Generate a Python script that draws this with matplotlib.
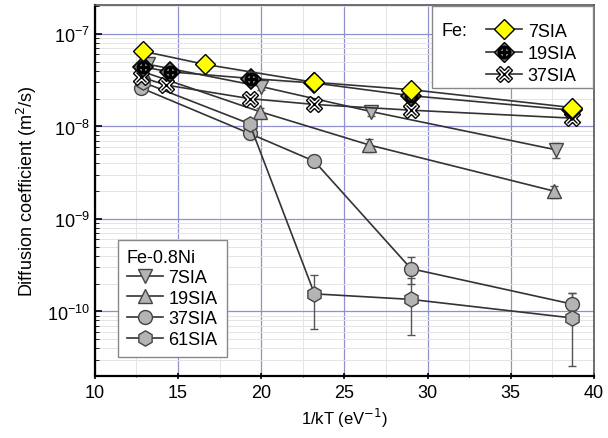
import numpy as np
import matplotlib
matplotlib.use("Agg")
import matplotlib.pyplot as plt
from matplotlib.lines import Line2D
from matplotlib.patches import Rectangle
from matplotlib.ticker import MultipleLocator, LogLocator, NullFormatter

plt.rcParams['font.family'] = ['Liberation Sans', 'DejaVu Sans']

# Fe data
x_fe7 = [12.9, 16.6, 23.2, 29.0, 38.7]
d_fe7 = [6.5e-8, 4.7e-8, 3.0e-8, 2.5e-8, 1.6e-8]
x_fe19 = [12.9, 14.5, 19.4, 23.2, 29.0, 38.7]
d_fe19 = [4.4e-8, 3.9e-8, 3.3e-8, 2.95e-8, 2.15e-8, 1.5e-8]
x_fe37 = [12.8, 14.3, 19.3, 23.2, 29.0, 38.7]
d_fe37 = [3.4e-8, 2.8e-8, 2.0e-8, 1.73e-8, 1.5e-8, 1.23e-8]

# Fe-0.8Ni data (value, lower, upper)
x_ni7 = [13.2, 20.0, 26.6, 37.7]
d_ni7 = [4.7e-8, 2.7e-8, 1.45e-8, 5.6e-9]
lo_ni7 = [4.5e-8, 2.5e-8, 1.3e-8, 4.6e-9]
hi_ni7 = [4.9e-8, 2.9e-8, 1.6e-8, 6.6e-9]
x_ni19 = [12.9, 19.9, 26.5, 37.6]
d_ni19 = [3.9e-8, 1.45e-8, 6.3e-9, 2.0e-9]
lo_ni19 = [3.7e-8, 1.3e-8, 5.3e-9, 1.7e-9]
hi_ni19 = [4.1e-8, 1.6e-8, 7.3e-9, 2.3e-9]
x_ni37 = [12.8, 19.3, 23.2, 29.0, 38.7]
d_ni37 = [2.6e-8, 8.4e-9, 4.2e-9, 2.9e-10, 1.2e-10]
lo_ni37 = [2.4e-8, 7.4e-9, 3.7e-9, 2.0e-10, 8.5e-11]
hi_ni37 = [2.8e-8, 9.4e-9, 4.7e-9, 3.9e-10, 1.6e-10]
x_ni61 = [12.9, 19.3, 23.2, 29.0, 38.7]
d_ni61 = [3.0e-8, 1.07e-8, 1.55e-10, 1.35e-10, 8.5e-11]
lo_ni61 = [2.8e-8, 9.7e-9, 6.5e-11, 5.5e-11, 2.6e-11]
hi_ni61 = [3.2e-8, 1.17e-8, 2.45e-10, 2.3e-10, 1.6e-10]

fig = plt.figure(figsize=(6.08, 4.39), dpi=100)
ax = fig.add_axes([0.156, 0.141, 0.821, 0.845])

gray = '#b4b4b4'
edge = '#444444'
line_c = '#333333'

def ni_series(x, d, lo, hi, marker, ms):
    d = np.array(d)
    yerr = [d - np.array(lo), np.array(hi) - d]
    ax.errorbar(x, d, yerr=yerr, color=line_c, lw=1.2, marker=marker, ms=ms,
                mfc=gray, mec=edge, mew=1.0, ecolor='#555555', elinewidth=1.0,
                capsize=3, zorder=3)

ni_series(x_ni7, d_ni7, lo_ni7, hi_ni7, 'v', 10)
ni_series(x_ni19, d_ni19, lo_ni19, hi_ni19, '^', 10)
ni_series(x_ni37, d_ni37, lo_ni37, hi_ni37, 'o', 10)
ni_series(x_ni61, d_ni61, lo_ni61, hi_ni61, 'h', 11)

# Fe series
ax.plot(x_fe37, d_fe37, color=line_c, lw=1.2, marker='X', ms=12, mfc='white',
        mec='black', mew=1.0, zorder=4)
ax.plot(x_fe37, d_fe37, ls='none', marker='x', ms=7, mec='black', mew=1.0, zorder=4)
ax.plot(x_fe19, d_fe19, color=line_c, lw=1.2, marker='D', ms=10, mfc='#777777',
        mec='black', mew=1.2, zorder=5)
ax.plot(x_fe19, d_fe19, ls='none', marker='$\\oplus$', ms=9, mec='black',
        mfc='black', zorder=5)
ax.plot(x_fe7, d_fe7, color=line_c, lw=1.2, marker='D', ms=10, mfc='#ffff00',
        mec='black', mew=1.0, zorder=6)

ax.set_yscale('log')
ax.set_xlim(10, 40)
ax.set_ylim(2.0e-11, 2.05e-7)

ax.xaxis.set_major_locator(MultipleLocator(5))
ax.xaxis.set_minor_locator(MultipleLocator(2.5))
ax.yaxis.set_major_locator(LogLocator(base=10, numticks=10))
ax.yaxis.set_minor_locator(LogLocator(base=10, subs=np.arange(2, 10), numticks=10))
ax.yaxis.set_minor_formatter(NullFormatter())

ax.grid(which='major', color='#9090d0', lw=0.9)
ax.grid(which='minor', color='#e4e4e4', lw=0.7)
ax.set_axisbelow(True)

ax.tick_params(axis='both', which='major', labelsize=13, direction='in', length=5, width=1.2)
ax.tick_params(axis='x', which='both', direction='inout')
ax.tick_params(axis='y', which='minor', direction='in', length=3)

for s in ['left', 'bottom']:
    ax.spines[s].set_linewidth(1.6)
for s in ['top', 'right']:
    ax.spines[s].set_color('#555555')
    ax.spines[s].set_linewidth(1.2)

ax.set_xlabel('1/kT (eV$^{-1}$)', fontsize=12, labelpad=3)
ax.set_ylabel('Diffusion coefficient (m$^2$/s)', fontsize=13, labelpad=6)

# Fe-0.8Ni legend
kw = dict(color=line_c, lw=1.2, mfc=gray, mec=edge)
ni_handles = [Line2D([], [], marker='v', ms=10, **kw),
              Line2D([], [], marker='^', ms=10, **kw),
              Line2D([], [], marker='o', ms=10, **kw),
              Line2D([], [], marker='h', ms=11, **kw)]
leg1 = ax.legend(ni_handles, ['7SIA', '19SIA', '37SIA', '61SIA'], title='Fe-0.8Ni',
                 loc='lower left', bbox_to_anchor=(0.028, 0.027), fontsize=13,
                 title_fontsize=13, numpoints=1, handlelength=2.0, handletextpad=0.3,
                 labelspacing=0.2, borderpad=0.5, fancybox=False, edgecolor='#888888',
                 framealpha=1, alignment='left')
ax.add_artist(leg1)

# Fe legend
fe_handles = [Line2D([], [], color=line_c, lw=1.2, marker='D', ms=10, mfc='#ffff00', mec='black'),
              (Line2D([], [], color=line_c, lw=1.2, marker='D', ms=10, mfc='#777777', mec='black'),
               Line2D([], [], ls='none', marker='$\\oplus$', ms=9, mec='black', mfc='black')),
              (Line2D([], [], color=line_c, lw=1.2, marker='X', ms=12, mfc='white', mec='black'),
               Line2D([], [], ls='none', marker='x', ms=7, mec='black'))]
ax.add_patch(Rectangle((0.675, 0.776), 0.322, 0.221, transform=ax.transAxes,
                       facecolor='white', edgecolor='#888888', lw=1.0, zorder=7))
ax.text(0.695, 0.955, 'Fe:', transform=ax.transAxes, fontsize=13, va='top', zorder=8)
leg2 = ax.legend(fe_handles, ['7SIA', '19SIA', '37SIA'], loc='upper right',
                 bbox_to_anchor=(0.998, 0.997), fontsize=13, numpoints=1,
                 handlelength=2.0, handletextpad=0.3, labelspacing=0.3,
                 frameon=False)
leg2.set_zorder(9)

fig.savefig('out.png', dpi=100)
